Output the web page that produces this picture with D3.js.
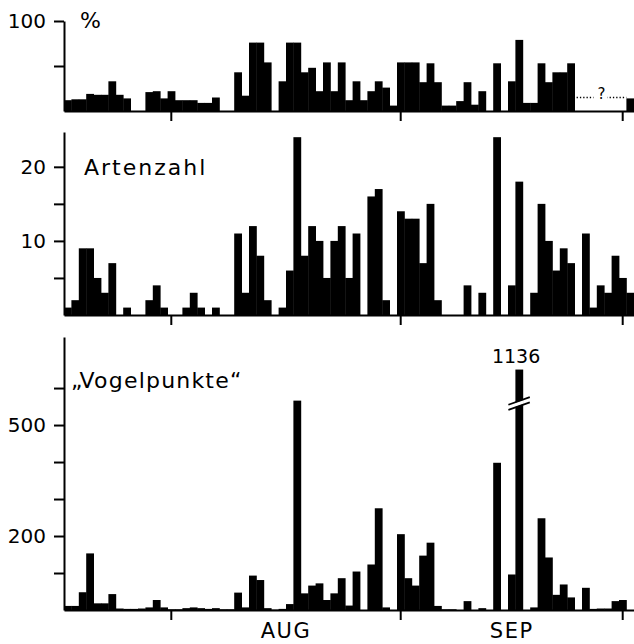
<!DOCTYPE html>
<html>
<head>
<meta charset="utf-8">
<script src="https://cdn.jsdelivr.net/npm/d3@7"></script>
<style>
  html, body { margin: 0; padding: 0; background: #fff; }
  svg { display: block; }
  text { font-family: "DejaVu Sans", sans-serif; fill: #000; }
</style>
</head>
<body>
<svg id="chart" width="634" height="644"></svg>
<script>
// Daily series, 18 July (index 0) to 2 October (index 76)
const days = d3.range(77);
const monthTickDays = [14, 45, 75];          // 1 Aug, 1 Sep, 1 Oct
const monthNames = ["AUG", "SEP"];

// Percentage per day (null = no observation)
const percent = [
  12, 13, 13, 19, 18, 18, 33, 18, 14, 0,
  0, 21, 22, 14, 22, 12, 12, 12, 9, 9,
  15, 0, 0, 43, 17, 76, 76, 54, 0, 33,
  76, 76, 43, 48, 22, 54, 22, 54, 12, 33,
  12, 22, 33, 26, 6, 54, 54, 54, 32, 53,
  32, 6, 6, 11, 32, 7, 22, 0, 53, 0,
  33, 79, 9, 9, 53, 32, 43, 43, 53, null,
  null, null, null, null, null, null, 14
];

// Number of species per day
const artenzahl = [
  1, 2, 9, 9, 5, 3, 7, 0, 1, 0,
  0, 2, 4, 1, 0, 0, 1, 3, 1, 0,
  1, 0, 0, 11, 3, 12, 8, 2, 0, 1,
  6, 24, 8, 12, 10, 5, 10, 12, 5, 11,
  0, 16, 17, 2, 0, 14, 13, 13, 7, 15,
  2, 0, 0, 0, 4, 0, 3, 0, 24, 0,
  4, 18, 0, 3, 15, 10, 6, 9, 7, 0,
  11, 1, 4, 3, 8, 5, 3
];

// "Vogelpunkte" per day
const vogelpunkte = [
  11, 11, 48, 153, 18, 18, 43, 4, 3, 3,
  4, 7, 27, 7, 2, 2, 5, 7, 5, 3,
  5, 2, 2, 47, 7, 93, 81, 5, 1, 3,
  16, 566, 45, 66, 72, 27, 45, 86, 12, 104,
  0, 123, 275, 7, 0, 205, 86, 66, 147, 182,
  11, 2, 2, 0, 24, 0, 5, 0, 398, 0,
  96, 1136, 0, 7, 248, 142, 41, 69, 34, 0,
  60, 3, 4, 4, 24, 27, 0
];

const svg = d3.select("#chart");

const x = d3.scaleBand()
  .domain(days)
  .range([64, 64 + 77 * 7.4])
  .paddingInner(0)
  .paddingOuter(0);
const bw = x.bandwidth();

const panels = [
  {
    values: percent,
    y: d3.scaleLinear().domain([0, 100]).range([111, 21]),
    ticks: [50, 100], labelled: [100],
    title: "%", titleX: 80, titleY: 28, titleSpacing: 0
  },
  {
    values: artenzahl,
    y: d3.scaleLinear().domain([0, 24.7]).range([315, 132]),
    ticks: [5, 10, 15, 20], labelled: [10, 20],
    title: "Artenzahl", titleX: 84, titleY: 175, titleSpacing: 2
  },
  {
    values: vogelpunkte,
    y: d3.scaleLinear().domain([0, 738]).range([610, 337]),
    ticks: [100, 200, 300, 400, 500, 600], labelled: [200, 500],
    title: "\u201EVogelpunkte\u201C", titleX: 71, titleY: 388, titleSpacing: 1.2,
    cap: 650
  }
];

function styleAxis(g) {
  g.selectAll("path.domain").attr("stroke", "#000").attr("stroke-width", 2);
  g.selectAll(".tick line").attr("stroke", "#000").attr("stroke-width", 2);
  g.selectAll(".tick text")
    .attr("font-family", "DejaVu Sans, sans-serif")
    .attr("font-size", 20)
    .attr("fill", "#000");
}

panels.forEach(p => {
  const g = svg.append("g");
  const y = p.y;
  const shown = v => (p.cap && v > p.cap) ? p.cap : v;

  // bars
  g.selectAll("rect.bar")
    .data(days.filter(d => p.values[d] != null && p.values[d] > 0))
    .join("rect")
    .attr("class", "bar")
    .attr("x", d => x(d))
    .attr("width", bw + 0.4)
    .attr("y", d => y(shown(p.values[d])))
    .attr("height", d => y(0) - y(shown(p.values[d])))
    .attr("fill", "#000");

  // scale break on values beyond the cap, labelled with the true value
  if (p.cap) {
    days.filter(d => p.values[d] > p.cap).forEach(d => {
      const x0 = x(d), x1 = x(d) + bw;
      const top = y(p.cap);
      const mid = top + 34;
      const ext = 7, half = 3.8, gap = 2.6;
      const inner = half * (bw + 2) / (bw + 2 * ext);
      const lineAt = (off) => [[x0 - ext, mid + off + half], [x1 + ext, mid + off - half]];
      g.append("path")
        .attr("d", d3.line()([
          [x0 - 1, mid - gap + inner + 0.5],
          [x1 + 1, mid - gap - inner + 0.5],
          [x1 + 1, mid + gap - inner - 0.5],
          [x0 - 1, mid + gap + inner - 0.5]
        ]) + "Z")
        .attr("fill", "#fff");
      [-gap, gap].forEach(off => {
        g.append("path")
          .attr("d", d3.line()(lineAt(off)))
          .attr("stroke", "#000")
          .attr("stroke-width", 1.8)
          .attr("fill", "none");
      });
      g.append("text")
        .attr("x", x0 + bw / 2 - 3)
        .attr("y", top - 7)
        .attr("text-anchor", "middle")
        .attr("font-size", 19)
        .text(p.values[d]);
    });
  }

  // days without observation: dotted outline with a question mark
  const missing = days.filter(d => p.values[d] == null);
  if (missing.length) {
    const xa = x(missing[0]), xb = x(missing[missing.length - 1]) + bw;
    const yl = y(15);
    g.append("line")
      .attr("x1", xa + 2).attr("x2", xb)
      .attr("y1", yl).attr("y2", yl)
      .attr("stroke", "#000")
      .attr("stroke-width", 1.3)
      .attr("stroke-dasharray", "1.3,2");
    g.append("rect")
      .attr("x", (xa + xb) / 2 - 7).attr("y", yl - 12)
      .attr("width", 14).attr("height", 14)
      .attr("fill", "#fff");
    g.append("text")
      .attr("x", (xa + xb) / 2 + 1)
      .attr("y", yl + 1)
      .attr("text-anchor", "middle")
      .attr("font-size", 15)
      .text("?");
  }

  // y axis
  const ya = g.append("g")
    .attr("transform", "translate(64,0)")
    .call(d3.axisLeft(y)
      .tickValues(p.ticks)
      .tickSize(10)
      .tickSizeOuter(0)
      .tickPadding(8)
      .tickFormat(v => p.labelled.includes(v) ? v : ""));
  styleAxis(ya);

  // x baseline with month ticks
  const xa = g.append("g")
    .attr("transform", `translate(0,${y(0)})`)
    .call(d3.axisBottom(x)
      .tickValues(monthTickDays)
      .tickSize(10)
      .tickSizeOuter(0)
      .tickFormat(""));
  styleAxis(xa);

  // panel title
  g.append("text")
    .attr("x", p.titleX)
    .attr("y", p.titleY)
    .attr("font-size", 22)
    .attr("letter-spacing", p.titleSpacing)
    .text(p.title);
});

// month names centred between month ticks, under the last panel
const tickX = monthTickDays.map(d => x(d) + bw / 2);
svg.selectAll("text.month")
  .data(monthNames)
  .join("text")
  .attr("class", "month")
  .attr("x", (m, i) => (tickX[i] + tickX[i + 1]) / 2)
  .attr("y", 638)
  .attr("text-anchor", "middle")
  .attr("font-size", 21)
  .attr("letter-spacing", 1.5)
  .text(m => m);
</script>
</body>
</html>
